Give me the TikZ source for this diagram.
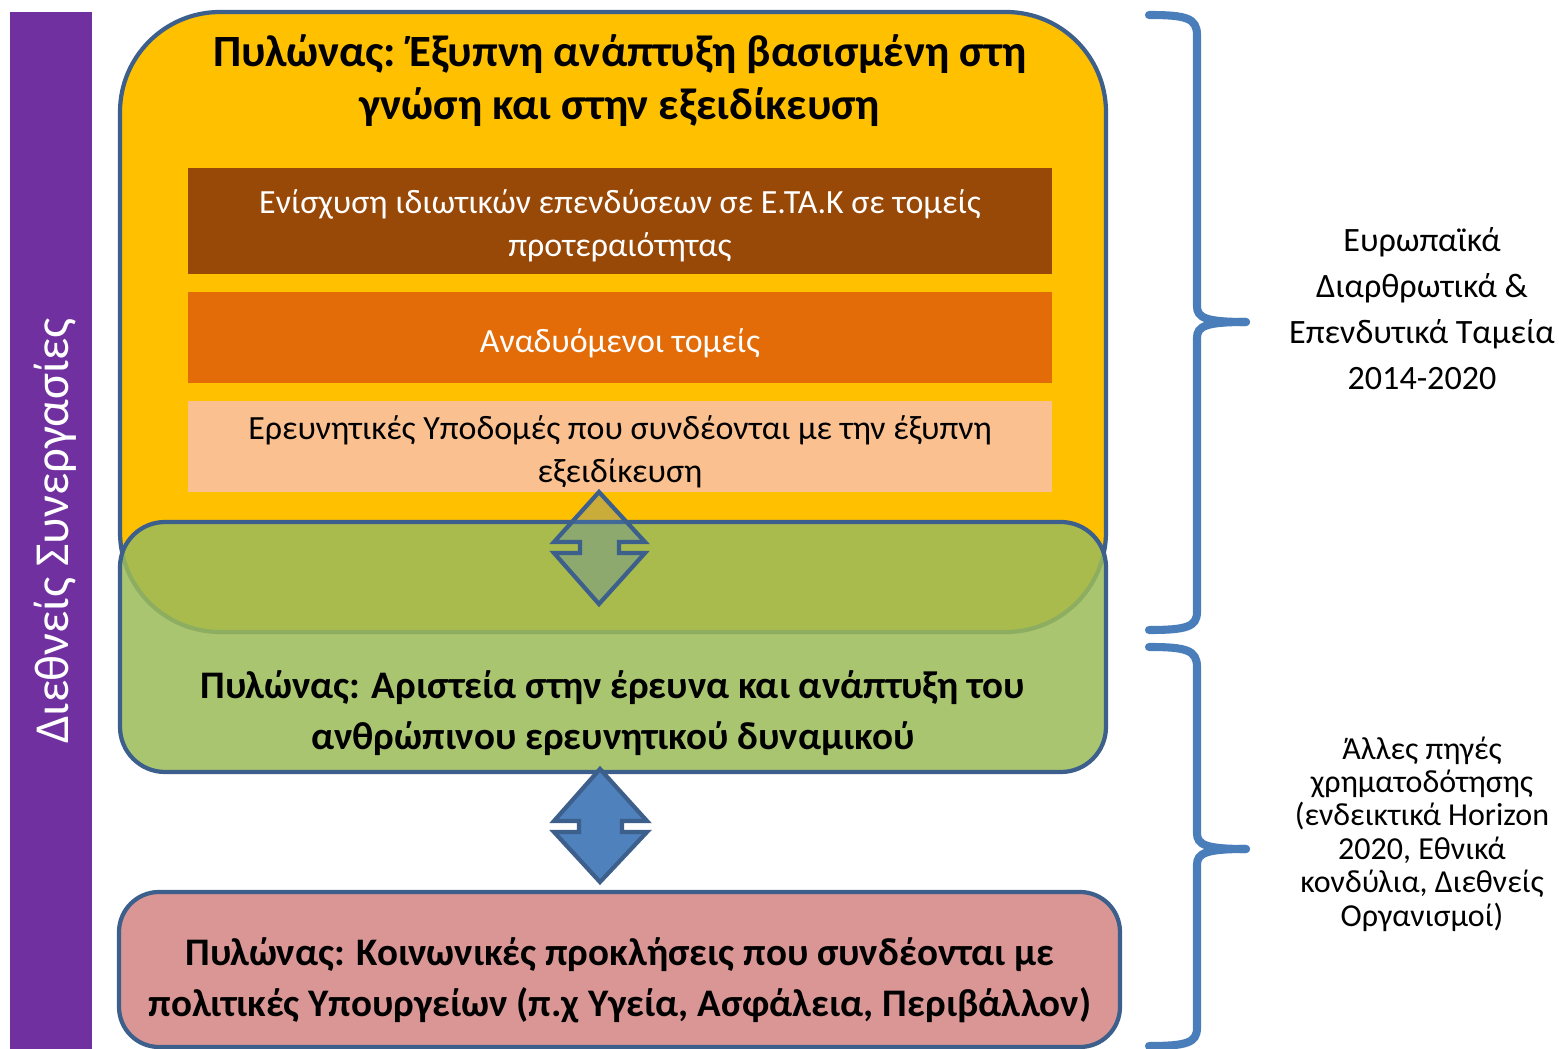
\documentclass[tikz,border=0pt]{standalone}
\usepackage{fontspec}
\setmainfont{Carlito}
\usepackage{tikz}
\usetikzlibrary{positioning, calc}

\definecolor{intlpurple}{HTML}{7030A0}
\definecolor{pillarline}{HTML}{3C5F8C}
\definecolor{smartyellow}{HTML}{FFC000}
\definecolor{bandbrown}{HTML}{984807}
\definecolor{bandorange}{HTML}{E36C09}
\definecolor{bandpeach}{HTML}{FAC090}
\definecolor{excelgreen}{HTML}{9BBB59}
\definecolor{socialpink}{HTML}{D99694}
\definecolor{arrowblue}{HTML}{4F81BD}
\definecolor{bracecol}{HTML}{4A7EBB}

\tikzset{
  pillar/.style={draw=pillarline, line width=1.2pt},
  pillartitle/.style={font=\bfseries\fontsize{11.1}{14.5}\selectfont, align=center},
  bandtext/.style={font=\fontsize{9.65}{12.2}\selectfont, align=center},
  fundtext/.style={font=\fontsize{9.7}{13.1}\selectfont, align=center},
  brace/.style={draw=bracecol, line width=2.3pt, line cap=round},
  dblarrow/.style={draw=pillarline, line width=1.2pt, line join=miter},
}

\begin{document}
\begin{tikzpicture}[x=0.01cm, y=-0.01cm]
        \useasboundingbox (0,0) rectangle (1559,1049);

        % international cooperation bar
        \fill[intlpurple] (10,12) rectangle (92,1049);
        \node[rotate=90, text=white, font=\fontsize{13.9}{16}\selectfont] (intl) at (55,531) {Διεθνείς Συνεργασίες};

        % pillars
        \draw[pillar, fill=smartyellow, rounded corners=1cm] (120,12) rectangle (1106,632);
        \fill[bandbrown] (188,168) rectangle (1052,274);
        \fill[bandorange] (188,292) rectangle (1052,383);
        \fill[bandpeach] (188,401) rectangle (1052,492);
        \draw[pillar, fill=excelgreen, fill opacity=0.86, rounded corners=0.45cm] (120,522) rectangle (1106,772);
        \draw[pillar, fill=socialpink, rounded corners=0.4cm] (119,892) rectangle (1120,1047);

        \node[pillartitle, font=\bfseries\fontsize{12.7}{15.1}\selectfont] (smart) at (620,81) {Πυλώνας: Έξυπνη ανάπτυξη βασισμένη στη\\γνώση και στην εξειδίκευση};
        \node[bandtext, text=white] (private) at (620,226) {Ενίσχυση ιδιωτικών επενδύσεων σε Ε.ΤΑ.Κ σε τομείς\\προτεραιότητας};
        \node[bandtext, text=white] (emerging) at (620,343) {Αναδυόμενοι τομείς};
        \node[bandtext] (infra) at (620,452) {Ερευνητικές Υποδομές που συνδέονται με την έξυπνη\\εξειδίκευση};
        \node[pillartitle] (excel) at (613,713) {Πυλώνας: Αριστεία στην έρευνα και ανάπτυξη του\\ανθρώπινου ερευνητικού δυναμικού};
        \node[pillartitle] (social) at (620,980) {Πυλώνας: Κοινωνικές προκλήσεις που συνδέονται με\\πολιτικές Υπουργείων (π.χ Υγεία, Ασφάλεια, Περιβάλλον)};

        % double arrows
        \draw[dblarrow, fill=arrowblue, fill opacity=0.3] (599,492) -- (645,542) -- (619,542) -- (619,553) -- (645,553) -- (599,604)
            -- (554,553) -- (580,553) -- (580,542) -- (554,542) -- cycle;
        \draw[dblarrow, fill=arrowblue] (600,769) -- (647,821) -- (622,821) -- (622,832) -- (647,832) -- (600,882)
            -- (554,832) -- (579,832) -- (579,821) -- (554,821) -- cycle;

        % funding braces
        \draw[brace] (1149,15) .. controls (1186,15) and (1197,18) .. (1197,35) -- (1197,306)
            .. controls (1197,318) and (1206,322) .. (1246,322);
        \draw[brace] (1246,322) .. controls (1206,322) and (1197,326) .. (1197,338) -- (1197,612)
            .. controls (1197,627) and (1186,630) .. (1149,630);
        \draw[brace] (1149,647) .. controls (1186,647) and (1197,650) .. (1197,667) -- (1197,833)
            .. controls (1197,845) and (1206,849) .. (1246,849);
        \draw[brace] (1246,849) .. controls (1206,849) and (1197,853) .. (1197,865) -- (1197,1028)
            .. controls (1197,1043) and (1186,1046) .. (1149,1046);

        \node[fundtext] (esif) at (1422,309) {Ευρωπαϊκά\\Διαρθρωτικά \&\\Επενδυτικά Ταμεία\\2014-2020};
        \node[font=\fontsize{9.1}{9.5}\selectfont, align=center] (other) at (1422,834) {Άλλες πηγές\\χρηματοδότησης\\(ενδεικτικά Horizon\\2020, Εθνικά\\κονδύλια, Διεθνείς\\Οργανισμοί)};

\end{tikzpicture}
\end{document}
